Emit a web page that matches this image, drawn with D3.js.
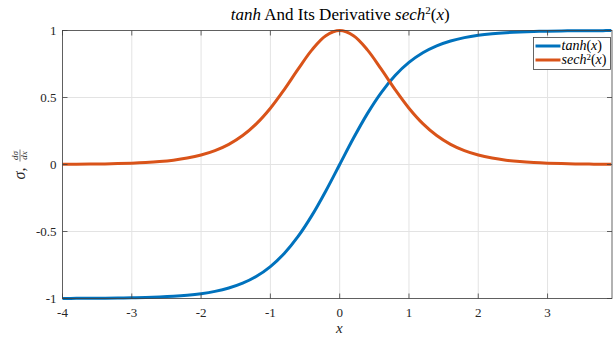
<!DOCTYPE html>
<html>
<head>
<meta charset="utf-8">
<script src="https://cdn.jsdelivr.net/npm/d3@7"></script>
<style>
  body { margin: 0; background: #fff; }
</style>
</head>
<body>
<div id="chart"></div>
<script>
// x samples
let xVals = [-4.0, -3.8, -3.6, -3.4, -3.2, -3.0, -2.8, -2.6, -2.4, -2.2,
             -2.0, -1.8, -1.6, -1.4, -1.2, -1.0, -0.8, -0.6, -0.4, -0.2,
              0.0,  0.2,  0.4,  0.6,  0.8,  1.0,  1.2,  1.4,  1.6,  1.8,
              2.0,  2.2,  2.4,  2.6,  2.8,  3.0,  3.2,  3.4,  3.6,  3.8, 3.92];
let tanhVals = [-0.9993, -0.9990, -0.9985, -0.9978, -0.9967, -0.9951, -0.9926, -0.9890, -0.9837, -0.9757,
                -0.9640, -0.9468, -0.9217, -0.8854, -0.8337, -0.7616, -0.6640, -0.5370, -0.3799, -0.1974,
                 0.0000,  0.1974,  0.3799,  0.5370,  0.6640,  0.7616,  0.8337,  0.8854,  0.9217,  0.9468,
                 0.9640,  0.9757,  0.9837,  0.9890,  0.9926,  0.9951,  0.9967,  0.9978,  0.9985,  0.9990, 0.9992];
let sechVals = [0.0013, 0.0020, 0.0030, 0.0045, 0.0066, 0.0099, 0.0148, 0.0219, 0.0324, 0.0480,
                0.0707, 0.1036, 0.1505, 0.2161, 0.3050, 0.4200, 0.5591, 0.7116, 0.8556, 0.9610,
                1.0000, 0.9610, 0.8556, 0.7116, 0.5591, 0.4200, 0.3050, 0.2161, 0.1505, 0.1036,
                0.0707, 0.0480, 0.0324, 0.0219, 0.0148, 0.0099, 0.0066, 0.0045, 0.0030, 0.0020, 0.0016];
let xTicks = [-4, -3, -2, -1, 0, 1, 2, 3];
let yTicks = [-1, -0.5, 0, 0.5, 1];
let seriesNames = ["tanh", "sech"];

let W = 613, H = 338;
let margin = {top: 30.5, right: 1, bottom: 40, left: 62.5},
    width = W - margin.left - margin.right,
    height = 298.5 - margin.top;
let serif = "Liberation Serif";

let svg = d3.select("#chart").append("svg")
    .attr("width", W).attr("height", H);
let g = svg.append("g")
    .attr("transform", "translate(" + margin.left + "," + margin.top + ")");

let x = d3.scaleLinear().domain([-4, 3.93]).range([0, width]);
let y = d3.scaleLinear().domain([-1, 1]).range([height, 0]);

// grid
g.selectAll(".gx").data(xTicks).enter().append("line")
    .attr("x1", d => x(d)).attr("x2", d => x(d))
    .attr("y1", 0).attr("y2", height)
    .attr("stroke", "#e3e3e3").attr("stroke-width", 1);
g.selectAll(".gy").data(yTicks).enter().append("line")
    .attr("x1", 0).attr("x2", width)
    .attr("y1", d => y(d)).attr("y2", d => y(d))
    .attr("stroke", "#e3e3e3").attr("stroke-width", 1);

// curves
let tanhData = xVals.map((v, i) => ({x: v, y: tanhVals[i]}));
let sechData = xVals.map((v, i) => ({x: v, y: sechVals[i]}));
let line = d3.line().x(d => x(d.x)).y(d => y(d.y)).curve(d3.curveCatmullRom);

g.append("path").datum(tanhData)
    .attr("fill", "none").attr("stroke", "#0072BD").attr("stroke-width", 3)
    .attr("d", line);
g.append("path").datum(sechData)
    .attr("fill", "none").attr("stroke", "#D95319").attr("stroke-width", 3)
    .attr("d", line);

// axes box
let axisColor = "#404040";
g.append("rect").attr("x", 0).attr("y", 0).attr("width", width).attr("height", height)
    .attr("fill", "none").attr("stroke", axisColor).attr("stroke-width", 0.8);

// inward ticks
let tl = 5;
xTicks.forEach(function(t) {
    g.append("line").attr("x1", x(t)).attr("x2", x(t)).attr("y1", height).attr("y2", height - tl)
        .attr("stroke", axisColor).attr("stroke-width", 0.8);
    g.append("line").attr("x1", x(t)).attr("x2", x(t)).attr("y1", 0).attr("y2", tl)
        .attr("stroke", axisColor).attr("stroke-width", 0.8);
    g.append("text").attr("x", x(t)).attr("y", height + 18)
        .attr("text-anchor", "middle").attr("font-family", serif).attr("font-size", 13).attr("fill", "#262626")
        .text(t < 0 ? "-" + Math.abs(t) : t);
});
yTicks.forEach(function(t) {
    g.append("line").attr("x1", 0).attr("x2", tl).attr("y1", y(t)).attr("y2", y(t))
        .attr("stroke", axisColor).attr("stroke-width", 0.8);
    g.append("line").attr("x1", width).attr("x2", width - tl).attr("y1", y(t)).attr("y2", y(t))
        .attr("stroke", axisColor).attr("stroke-width", 0.8);
    g.append("text").attr("x", -6).attr("y", y(t) + 4.5)
        .attr("text-anchor", "end").attr("font-family", serif).attr("font-size", 13).attr("fill", "#262626")
        .text(t < 0 ? "-" + Math.abs(t) : t);
});

// title
let title = svg.append("text").attr("x", margin.left + width / 2 + 3).attr("y", 20)
    .attr("text-anchor", "middle").attr("font-family", serif).attr("font-size", 17).attr("fill", "#000");
title.append("tspan").attr("font-style", "italic").text("tanh");
title.append("tspan").text(" And Its Derivative ");
title.append("tspan").attr("font-style", "italic").text("sech");
title.append("tspan").attr("dy", -6).attr("font-size", 11).text("2");
title.append("tspan").attr("dy", 6).text("(");
title.append("tspan").attr("font-style", "italic").text("x");
title.append("tspan").text(")");

// x label
svg.append("text").attr("x", margin.left + width / 2 + 2).attr("y", 333)
    .attr("text-anchor", "middle").attr("font-family", serif).attr("font-size", 15).attr("font-style", "italic")
    .attr("fill", "#262626").text("x");

// y label
let yl = svg.append("g").attr("transform", "translate(25," + (margin.top + height / 2) + ") rotate(-90)");
yl.append("text").attr("x", -9).attr("y", 0).attr("font-family", serif).attr("font-size", 16).attr("font-style", "italic")
    .attr("text-anchor", "middle").attr("fill", "#262626").text("σ,");
yl.append("text").attr("x", 9).attr("y", -7).attr("font-family", serif).attr("font-size", 9).attr("font-style", "italic")
    .attr("text-anchor", "middle").attr("fill", "#262626").text("dσ");
yl.append("line").attr("x1", 3).attr("x2", 15).attr("y1", -5).attr("y2", -5)
    .attr("stroke", "#262626").attr("stroke-width", 0.6);
yl.append("text").attr("x", 9).attr("y", 2).attr("font-family", serif).attr("font-size", 9).attr("font-style", "italic")
    .attr("text-anchor", "middle").attr("fill", "#262626").text("dx");

// legend
let lg = svg.append("g").attr("transform", "translate(533.5,37.5)");
lg.append("rect").attr("width", 77).attr("height", 32)
    .attr("fill", "#fff").attr("stroke", "#404040").attr("stroke-width", 0.8);
let legColors = ["#0072BD", "#D95319"];
seriesNames.forEach(function(n, i) {
    let yy = 8.5 + i * 14;
    lg.append("line").attr("x1", 2).attr("x2", 27).attr("y1", yy).attr("y2", yy)
        .attr("stroke", legColors[i]).attr("stroke-width", 3);
    let t = lg.append("text").attr("x", 28).attr("y", yy + 4).attr("font-family", serif).attr("font-size", 14).attr("fill", "#000");
    t.append("tspan").attr("font-style", "italic").text(n);
    if (i === 1) t.append("tspan").attr("dy", -4).attr("font-size", 9).text("2");
    t.append("tspan").attr("dy", i === 1 ? 4 : 0).text("(");
    t.append("tspan").attr("font-style", "italic").text("x");
    t.append("tspan").text(")");
});
</script>
</body>
</html>
